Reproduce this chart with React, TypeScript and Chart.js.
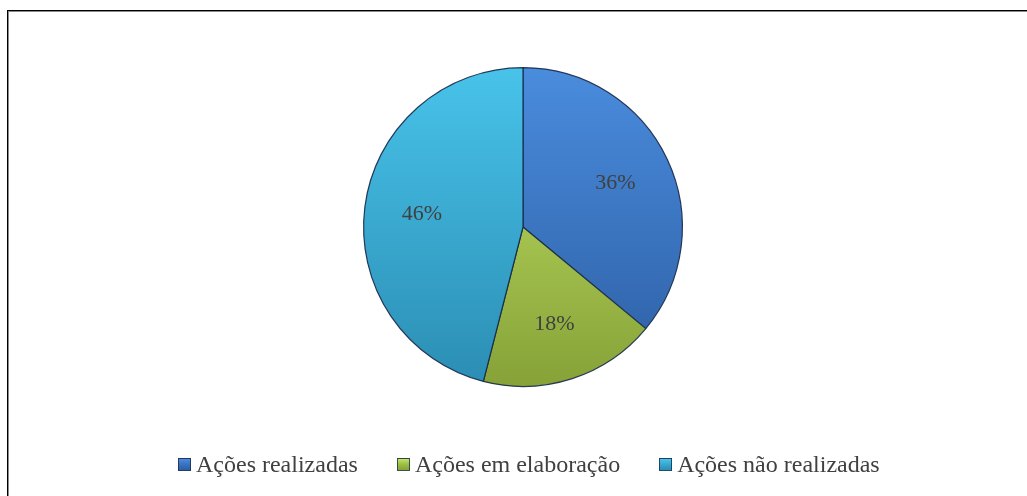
import React, { useEffect, useRef } from "react";
import { Chart, registerables } from "chart.js";

Chart.register(...registerables);

const categories = ["Ações realizadas", "Ações em elaboração", "Ações não realizadas"];
const values = [36, 18, 46];
const topColors = ["#4A8CDD", "#C4E466", "#48C3EA"];
const bottomColors = ["#2C5EA3", "#86A238", "#2B8DB3"];
const legendColors = ["#3A72BE", "#9CBC42", "#38A8CE"];

const FONT = '"Liberation Serif", "Times New Roman", serif';
const total = values.reduce((a, b) => a + b, 0);

const sliceLabelPlugin = {
  id: "sliceLabels",
  afterDatasetsDraw(chart: any) {
    const ctx = chart.ctx;
    const meta = chart.getDatasetMeta(0);
    ctx.save();
    ctx.font = `22px ${FONT}`;
    ctx.fillStyle = "#404040";
    ctx.textAlign = "center";
    ctx.textBaseline = "middle";
    meta.data.forEach((arc: any, i: number) => {
      const p = arc.getProps(["x", "y", "startAngle", "endAngle", "outerRadius"], true);
      const mid = (p.startAngle + p.endAngle) / 2;
      const r = p.outerRadius * 0.64;
      const pct = Math.round((values[i] / total) * 100);
      ctx.fillText(`${pct}%`, p.x + Math.cos(mid) * r, p.y + Math.sin(mid) * r);
    });
    ctx.restore();
  },
};

export default function App() {
  const canvasRef = useRef<HTMLCanvasElement | null>(null);

  useEffect(() => {
    if (!canvasRef.current) return;
    const chart = new Chart(canvasRef.current, {
      type: "pie",
      data: {
        labels: categories,
        datasets: [
          {
            data: values,
            backgroundColor: (c: any) => {
              const area = c.chart.chartArea;
              const i = c.dataIndex;
              if (!area) return topColors[i];
              const g = c.chart.ctx.createLinearGradient(0, area.top, 0, area.bottom);
              g.addColorStop(0, topColors[i]);
              g.addColorStop(1, bottomColors[i]);
              return g;
            },
            borderColor: "rgba(22,40,72,0.9)",
            borderWidth: 1.2,
          },
        ],
      },
      options: {
        responsive: false,
        animation: false,
        devicePixelRatio: 1,
        layout: { padding: { top: 67, bottom: 109, left: 19, right: 0 } },
        plugins: {
          legend: { display: false },
          tooltip: { enabled: false },
        },
      },
      plugins: [sliceLabelPlugin],
    });
    return () => chart.destroy();
  }, []);

  return (
    <div style={{ position: "fixed", left: 0, top: 0, width: 1027, height: 496, background: "#fff", overflow: "hidden" }}>
      <div
        style={{
          position: "absolute",
          left: 7,
          top: 10,
          width: 1100,
          height: 600,
          borderLeft: "1px solid #000",
          borderTop: "1px solid #000",
          boxShadow: "inset 1px 1px 0 #8a8a8a",
        }}
      />
      <canvas ref={canvasRef} width={1027} height={496} style={{ position: "absolute", left: 0, top: 0 }} />
      <div
        style={{
          position: "absolute",
          left: 178,
          top: 450,
          display: "flex",
          alignItems: "center",
          fontFamily: FONT,
          fontSize: 24,
          lineHeight: "28px",
          color: "#404040",
          whiteSpace: "nowrap",
        }}
      >
        {categories.map((cat, i) => (
          <div key={cat} style={{ display: "flex", alignItems: "center", marginRight: 39 }}>
            <span
              style={{
                display: "inline-block",
                width: 11,
                height: 11,
                border: "1px solid rgba(25,45,80,0.8)",
                background: `linear-gradient(180deg, ${topColors[i]} 0%, ${legendColors[i]} 50%, ${bottomColors[i]} 100%)`,
                marginRight: 5,
              }}
            />
            <span>{cat}</span>
          </div>
        ))}
      </div>
    </div>
  );
}
